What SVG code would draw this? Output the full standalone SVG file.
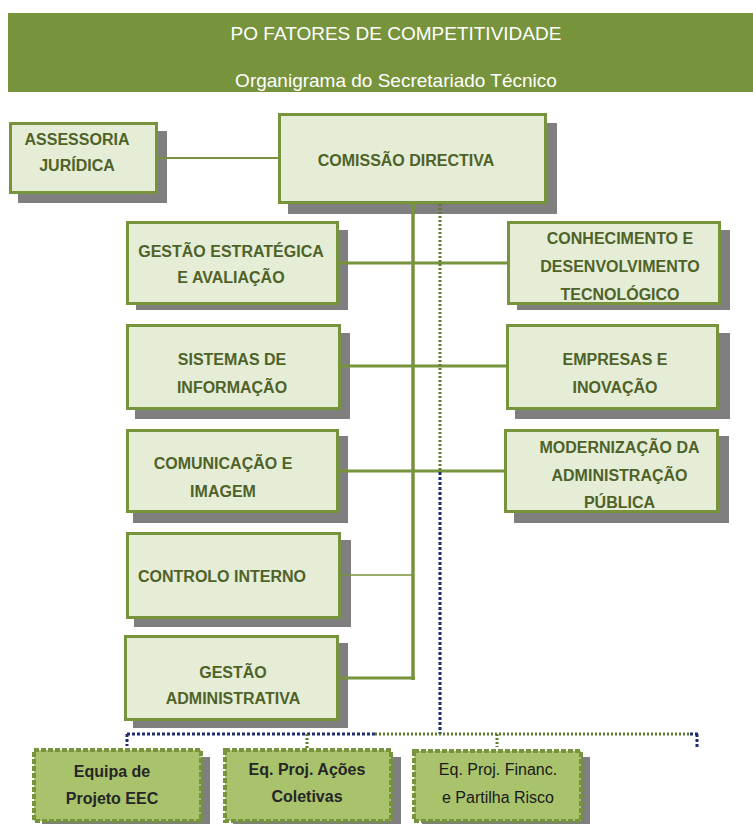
<svg xmlns="http://www.w3.org/2000/svg" width="753" height="824" viewBox="0 0 753 824">
<style>
.sh{fill:#7F7F7F}
.bx{fill:#E5EDD7;stroke:#77933C;stroke-width:3}
.bb{fill:#A9C36C;stroke:#77933C;stroke-width:4;stroke-dasharray:5 2}
.t{font-family:"Liberation Sans",Arial,sans-serif;font-weight:bold;font-size:16px;fill:#4F6228;text-anchor:middle}
.tb{font-family:"Liberation Sans",Arial,sans-serif;font-weight:bold;font-size:16px;fill:#262626;text-anchor:middle}
.tr{font-family:"Liberation Sans",Arial,sans-serif;font-size:16px;fill:#1A1A1A;text-anchor:middle}
.h{font-family:"Liberation Sans",Arial,sans-serif;font-size:19px;fill:#FFFFFF;text-anchor:middle}
.c{stroke:#77933C;fill:none}
.dg{stroke:#5E7A2A;stroke-width:3;stroke-dasharray:2 2;fill:none}
.dn{stroke:#1F2D6E;stroke-width:3;stroke-dasharray:3 2;fill:none}
</style>
<rect width="753" height="824" fill="#FFFFFF"/>
<g id="header">
<rect x="8" y="13" width="745" height="79" fill="#77933C"/>
<text class="h" x="396" y="40">PO FATORES DE COMPETITIVIDADE</text>
<text class="h" x="396" y="87">Organigrama do Secretariado Técnico</text>
</g>
<g id="assessoria">
<rect class="sh" x="18" y="131" width="149" height="72"/>
<rect class="bx" x="10.5" y="123.5" width="146" height="69"/>
<text class="t" x="77" y="144.5">ASSESSORIA</text>
<text class="t" x="77" y="171">JURÍDICA</text>
</g>
<g id="comissao">
<rect class="sh" x="288" y="123" width="269" height="91"/>
<rect class="bx" x="279.5" y="114.5" width="266" height="88"/>
<text class="t" x="406" y="165.5">COMISSÃO DIRECTIVA</text>
</g>
<g id="gestao-estrategica">
<rect class="sh" x="136" y="230" width="212" height="80"/>
<rect class="bx" x="127.5" y="222.5" width="210" height="81"/>
<text class="t" x="231" y="256.5">GESTÃO ESTRATÉGICA</text>
<text class="t" x="231" y="283">E AVALIAÇÃO</text>
</g>
<g id="conhecimento">
<rect class="sh" x="517" y="230" width="213" height="80"/>
<rect class="bx" x="508.5" y="222.5" width="211" height="81"/>
<text class="t" x="620" y="244">CONHECIMENTO E</text>
<text class="t" x="620" y="271.5">DESENVOLVIMENTO</text>
<text class="t" x="620" y="300">TECNOLÓGICO</text>
</g>
<g id="sistemas">
<rect class="sh" x="135" y="333" width="215" height="86"/>
<rect class="bx" x="127.5" y="325.5" width="212" height="83"/>
<text class="t" x="232" y="365">SISTEMAS DE</text>
<text class="t" x="232" y="393">INFORMAÇÃO</text>
</g>
<g id="empresas">
<rect class="sh" x="515" y="333" width="215" height="86"/>
<rect class="bx" x="507.5" y="325.5" width="210" height="83"/>
<text class="t" x="615" y="365">EMPRESAS E</text>
<text class="t" x="615" y="393">INOVAÇÃO</text>
</g>
<g id="comunicacao">
<rect class="sh" x="133" y="436" width="215" height="87"/>
<rect class="bx" x="127.5" y="430.5" width="210" height="81"/>
<text class="t" x="223" y="469">COMUNICAÇÃO E</text>
<text class="t" x="223" y="497">IMAGEM</text>
</g>
<g id="modernizacao">
<rect class="sh" x="514" y="436" width="215" height="87"/>
<rect class="bx" x="505.5" y="430.5" width="212" height="81"/>
<text class="t" x="619.5" y="453">MODERNIZAÇÃO DA</text>
<text class="t" x="619.5" y="481">ADMINISTRAÇÃO</text>
<text class="t" x="619.5" y="508">PÚBLICA</text>
</g>
<g id="controlo">
<rect class="sh" x="134" y="540" width="217" height="87"/>
<rect class="bx" x="127.5" y="533.5" width="212" height="84"/>
<text class="t" x="138" y="582" style="text-anchor:start">CONTROLO INTERNO</text>
</g>
<g id="gestao-administrativa">
<rect class="sh" x="133" y="643" width="215" height="85"/>
<rect class="bx" x="125.5" y="636.5" width="212" height="83"/>
<text class="t" x="233" y="678">GESTÃO</text>
<text class="t" x="233" y="704">ADMINISTRATIVA</text>
</g>
<g id="equipa-eec">
<rect class="sh" x="42" y="757" width="168" height="67"/>
<rect class="bb" x="34" y="750" width="167" height="71"/>
<text class="tb" x="112" y="777">Equipa de</text>
<text class="tb" x="112" y="804">Projeto EEC</text>
</g>
<g id="eq-acoes">
<rect class="sh" x="233" y="757" width="168" height="67"/>
<rect class="bb" x="225" y="750" width="166" height="71"/>
<text class="tb" x="307" y="775">Eq. Proj. Ações</text>
<text class="tb" x="307" y="802">Coletivas</text>
</g>
<g id="eq-financ">
<rect class="sh" x="422" y="757" width="168" height="67"/>
<rect class="bb" x="414" y="751" width="167" height="70"/>
<text class="tr" x="498" y="775">Eq. Proj. Financ.</text>
<text class="tr" x="498" y="803">e Partilha Risco</text>
</g>
<g id="connectors">
<line class="c" x1="157" y1="158" x2="278" y2="158" stroke-width="2"/>
<line class="c" x1="413" y1="204" x2="413" y2="680" stroke-width="3.5"/>
<line class="c" x1="339" y1="263" x2="507" y2="263" stroke-width="3"/>
<line class="c" x1="341" y1="366" x2="506" y2="366" stroke-width="3"/>
<line class="c" x1="339" y1="471" x2="504" y2="471" stroke-width="3"/>
<line class="c" x1="341" y1="575" x2="413" y2="575" stroke-width="1.5"/>
<line class="c" x1="339" y1="678" x2="415" y2="678" stroke-width="3"/>
<line class="dg" x1="440" y1="204" x2="440" y2="472"/>
<line class="dn" x1="440" y1="472" x2="440" y2="734"/>
<line class="dn" x1="127" y1="734" x2="375" y2="734"/>
<line class="dg" x1="375" y1="734" x2="690" y2="734"/>
<line class="dn" x1="690" y1="734" x2="699" y2="734"/>
<line class="dn" x1="127" y1="734" x2="127" y2="746"/>
<line class="dg" x1="307" y1="734" x2="307" y2="749"/>
<line class="dg" x1="497" y1="734" x2="497" y2="747"/>
<line class="dn" x1="697" y1="734" x2="697" y2="747"/>
</g>
</svg>
